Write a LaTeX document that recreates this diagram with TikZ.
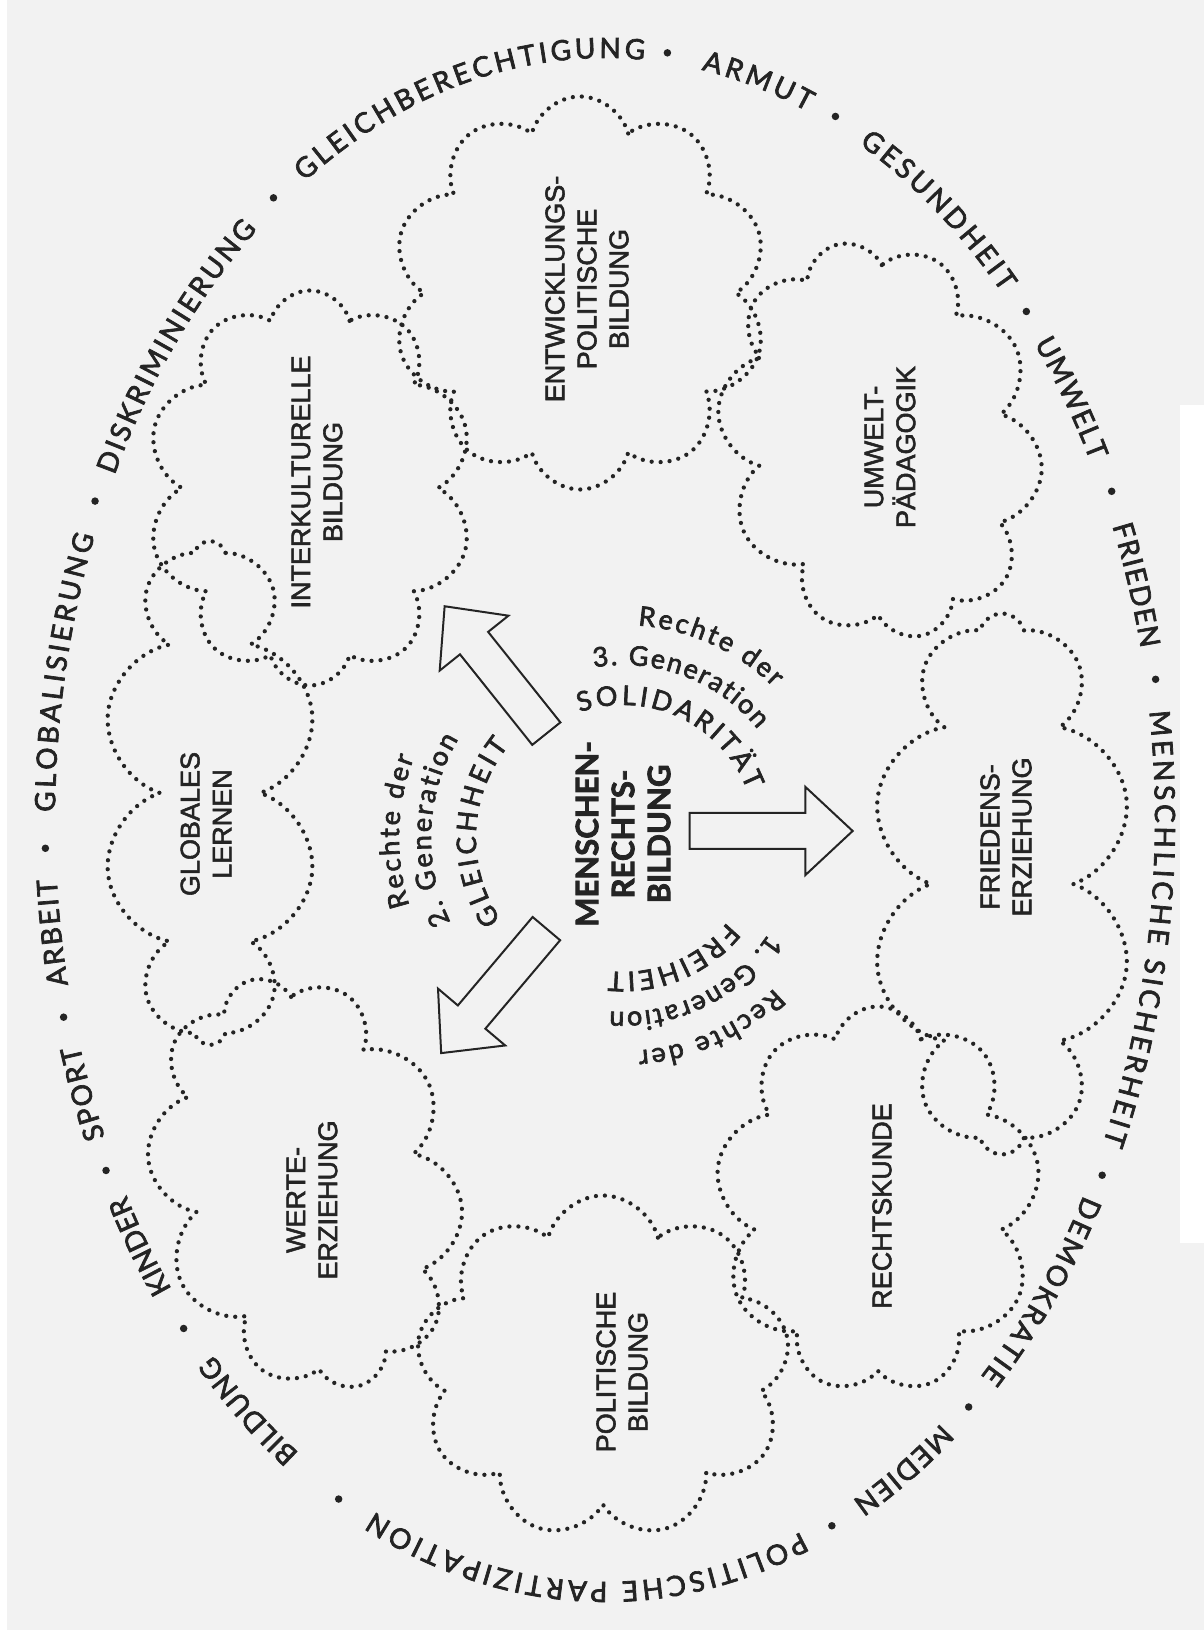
\documentclass[tikz,border=0pt]{standalone}
\usepackage{fontspec}
\setmainfont{Liberation Sans}
\newfontfamily\ringfont[FakeBold=2.5]{Lato}
\newfontfamily\labfont[FakeBold=2]{Liberation Sans}
\newfontfamily\centerfont[FakeBold=2.5]{Lato}
\usetikzlibrary{shapes.symbols,shapes.arrows,decorations.text}
\definecolor{bg}{gray}{0.95}
\definecolor{ink}{gray}{0.14}
\newcommand\ringword[3]{%
  \path[decorate, decoration={text along path, text color=ink,
    text={|\ringfont\fontsize{28}{28}\selectfont|#3}, text align=fit to path}]
    ([shift={(605,810)}]#1:550 and 762) arc[start angle=#1, end angle=#2, x radius=550, y radius=762];}
\newcommand\ringdot[2]{\path ([shift={(605,810)}]#2:560 and 772) node[ringdotstyle] (#1) {};}
\newcommand\arcword[5]{%
  \path[decorate, decoration={text along path, text color=ink,
    text={|\ringfont\fontsize{#4}{#4}\selectfont|#5}, text align=fit to path}]
    ([shift={(623,792)}]#2:#1) arc[start angle=#2, end angle=#3, radius=#1];}
\begin{document}
\begin{tikzpicture}[x=1pt,y=1pt,
  cloudline/.style={cloud, cloud ignores aspect, cloud puff arc=150, draw=ink, line width=4.3pt, line cap=round, dash pattern=on 0pt off 9pt, inner sep=0pt},
  cloudlabel/.style={font=\labfont\fontsize{27}{32}\selectfont, text=ink, align=center, rotate=90, inner sep=0pt},
  centerlabel/.style={font=\centerfont\bfseries\fontsize{31}{36}\selectfont, text=ink, align=center, rotate=90, inner sep=0pt},
  bigarrow/.style={single arrow, draw=ink, line width=2pt, inner xsep=0pt, inner ysep=17pt, minimum height=163pt, single arrow head extend=26pt, single arrow tip angle=86, single arrow head indent=0pt},
  ringdotstyle/.style={circle, fill=ink, inner sep=0pt, minimum size=7.5pt}]
\useasboundingbox (0,0) rectangle (1204,1630);
\fill[bg] (0,0) rectangle (1204,1630);
\fill[white] (0,0) rectangle (7,1630);
\fill[white] (1180,387) rectangle (1204,1225);

% clouds
\node[cloudline, cloud puffs=10, minimum width=327pt, minimum height=395pt] (cIK) at (310,1142) {};
\node[cloudline, cloud puffs=10, minimum width=376pt, minimum height=393pt] (cEP) at (580,1337) {};
\node[cloudline, cloud puffs=10, rotate=12, minimum width=320pt, minimum height=400pt] (cUP) at (880,1190) {};
\node[cloudline, cloud puffs=10, minimum width=215pt, minimum height=504pt] (cGL) at (210,837) {};
\node[cloudline, cloud puffs=10, minimum width=262pt, minimum height=541pt] (cFE) at (1002,746) {};
\node[cloudline, cloud puffs=10, rotate=15, minimum width=305pt, minimum height=420pt] (cWE) at (305,447) {};
\node[cloudline, cloud puffs=9, minimum width=374pt, minimum height=343pt] (cPB) at (603,263) {};
\node[cloudline, cloud puffs=9, minimum width=325pt, minimum height=387pt] (cRK) at (878,430) {};

% cloud labels
\node[cloudlabel] (lIK) at (317,1148) {INTERKULTURELLE\\BILDUNG};
\node[cloudlabel] (lEP) at (587,1341) {ENTWICKLUNGS-\\POLITISCHE\\BILDUNG};
\node[cloudlabel] (lUP) at (890,1183) {UMWELT-\\PÄDAGOGIK};
\node[cloudlabel] (lGL) at (206,806) {GLOBALES\\LERNEN};
\node[cloudlabel] (lFE) at (1006,793) {FRIEDENS-\\ERZIEHUNG};
\node[cloudlabel] (lWE) at (312,430) {WERTE-\\ERZIEHUNG};
\node[cloudlabel] (lPB) at (622,258) {POLITISCHE\\BILDUNG};
\node[cloudlabel] (lRK) at (882,424) {RECHTSKUNDE};

% centre
\node[centerlabel] (mrb) at (623,796) {MENSCHEN-\\RECHTS-\\BILDUNG};
\node[bigarrow, rotate=0] (aR) at (761.5,799) {};
\node[bigarrow, rotate=128.6] (aUL) at (501.5,952.5) {};
\node[bigarrow, rotate=229.8] (aDL) at (500,646.5) {};

% generations
\arcword{213}{86}{45}{27}{Rechte der}
\arcword{173}{99.7}{38.9}{27}{3. Generation}
\arcword{133}{109}{21}{27}{SOLIDARITÄT}
\arcword{224}{197.6}{159}{27}{Rechte der}
\arcword{192}{206}{149}{27}{2. Generation}
\arcword{147}{214}{141}{27}{GLEICHHEIT}
\arcword{213}{-44.8}{-85.9}{27}{Rechte der}
\arcword{174}{-33.4}{-94.4}{27}{1. Generation}
\arcword{134}{-38.9}{-96.2}{27}{FREIHEIT}

% outer ring
\ringword{236.2}{224.6}{BILDUNG}
\ringword{218.0}{209.5}{KINDER}
\ringword{204.6}{197.2}{SPORT}
\ringword{192.5}{184.45}{ARBEIT}
\ringword{179.4}{158.1}{GLOBALISIERUNG}
\ringword{153.1}{129.2}{DISKRIMINIERUNG}
\ringword{123.1}{85.9}{GLEICHBERECHTIGUNG}
\ringword{79.9}{68.4}{ARMUT}
\ringword{62.5}{43.8}{GESUNDHEIT}
\ringword{38.7}{28.1}{UMWELT}
\ringword{22.7}{13.0}{FRIEDEN}
\ringword{8.2}{-25.1}{MENSCHLICHE SICHERHEIT}
\ringword{-29.5}{-46.9}{DEMOKRATIE}
\ringword{-52.35}{-63.3}{MEDIEN}
\ringword{-69.1}{-114.8}{POLITISCHE PARTIZIPATION}
\ringdot{d1}{221.2}
\ringdot{d2}{207.0}
\ringdot{d3}{194.8}
\ringdot{d4}{182.1}
\ringdot{d5}{155.6}
\ringdot{d6}{126.3}
\ringdot{d7}{83.6}
\ringdot{d8}{65.7}
\ringdot{d9}{41.2}
\ringdot{d10}{25.2}
\ringdot{d11}{10.5}
\ringdot{d12}{-27.4}
\ringdot{d13}{-49.5}
\ringdot{d14}{-66.1}
\ringdot{d15}{-118.4}
\end{tikzpicture}
\end{document}
